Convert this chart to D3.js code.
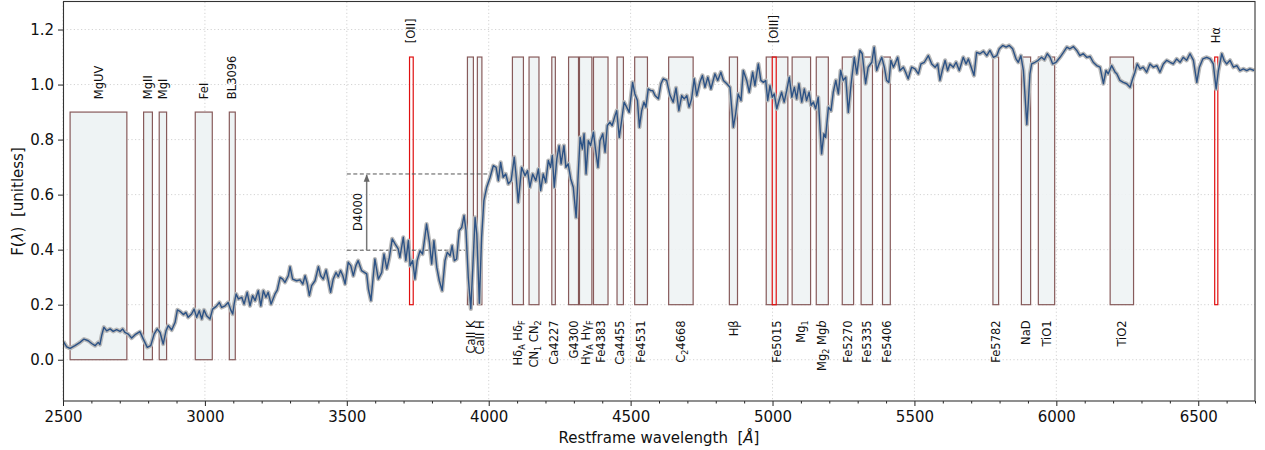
<!DOCTYPE html>
<html><head><meta charset="utf-8">
<script src="https://cdn.jsdelivr.net/npm/d3@7"></script>
<style>body{margin:0;background:#fff} text{font-family:"DejaVu Sans",sans-serif;fill:#111}</style>
</head><body><svg id="c" width="1265" height="450"></svg>
<script>
// ---------------- data ----------------
const wavelength = [2501,2513,2525,2542,2560,2574,2589,2601,2613,2624,2630,2636,2644,2654,2666,2677,2689,2701,2710,2718,2730,2742,2754,2771,2783,2797,2809,2821,2832,2842,2853,2863,2871,2883,2895,2903,2912,2924,2933,2941,2953,2962,2971,2980,2989,2997,3006,3018,3027,3039,3051,3059,3071,3082,3091,3098,3103,3110,3118,3130,3138,3149,3159,3168,3177,3188,3197,3206,3215,3223,3233,3247,3255,3265,3274,3282,3294,3300,3309,3323,3335,3345,3353,3361,3368,3376,3388,3400,3408,3417,3427,3435,3443,3452,3462,3470,3478,3486,3494,3505,3514,3523,3532,3540,3552,
3570,3576,3585,3599,3611,3623,3631,3641,3650,3660,3670,3681,3687,3699,3708,3717,3723,3732,3740,3748,3758,3767,3781,3791,3799,3807,3817,3826,3836,3846,3854,3864,3871,3879,3887,3896,3905,3913,3920,3928,3937,3944,3952,3958,3967,3975,3983,3993,4005,4016,4026,4034,4042,4051,4060,4069,4079,4090,4096,4104,4116,4128,4137,4145,4155,4166,4175,4183,4192,4201,4210,4218,4224,4231,4240,4248,4255,4265,4272,4280,4289,4298,4308,4316,4322,4330,4336,4343,4351,4359,4369,4376,4385,4392,4402,4410,4418,4427,4435,4445,4451,4460,4469,4477,4486,4495,4507,4515,4524,4531,4539,4547,4554,4562,4571,4578,
4586,4598,4607,4615,4627,4639,4650,4660,4670,4680,4689,4698,4706,4715,4724,4733,4744,4753,4762,4772,4783,4797,4807,4818,4827,4839,4850,4862,4870,4879,4889,4897,4909,4918,4930,4938,4950,4959,4968,4976,4983,4991,4999,5006,5015,5023,5032,5041,5050,5059,5068,5077,5085,5093,5103,5112,5120,5129,5136,5144,5152,5161,5170,5173,5181,5187,5197,5206,5214,5223,5232,5240,5249,5258,5267,5277,5288,5297,5308,5316,5328,5337,5350,5358,5367,5375,5385,5394,5402,5410,5417,5426,5434,5441,5449,5461,5469,5478,5490,5502,5514,5523,5535,5549,5561,5573,5582,5590,5598,5608,5617,
5625,5637,5647,5658,5672,5682,5690,5698,5710,5719,5731,5743,5755,5766,5778,5790,5799,5811,5823,5834,5846,5858,5866,5875,5884,5890,5896,5901,5907,5913,5925,5936,5948,5958,5968,5978,5987,5999,6013,6025,6037,6048,6060,6072,6083,6095,6107,6119,6130,6142,6154,6166,6175,6183,6195,6207,6213,6224,6236,6248,6260,6269,6277,6285,6295,6306,6318,6330,6342,6354,6365,6377,6389,6401,6412,6424,6436,6447,6459,6471,6483,6495,6504,6516,6530,6542,6553,6563,6571,6583,6591,6600,6612,6624,6636,6647,6659,6671,6682,6697];
const flux = [0.067,0.047,0.041,0.051,0.063,0.075,0.069,0.059,0.051,0.063,0.055,0.087,0.118,0.105,0.112,0.103,0.109,0.103,0.112,0.099,0.093,0.079,0.091,0.102,0.075,0.045,0.051,0.093,0.112,0.099,0.057,0.105,0.124,0.108,0.136,0.181,0.176,0.164,0.172,0.154,0.166,0.184,0.154,0.178,0.148,0.181,0.160,0.148,0.184,0.193,0.208,0.190,0.196,0.208,0.181,0.166,0.202,0.239,0.221,0.227,0.202,0.245,0.196,0.233,0.215,0.251,0.196,0.251,0.227,0.245,0.202,0.239,0.253,0.299,0.293,0.281,0.305,0.338,0.293,0.287,0.290,0.275,0.305,0.275,0.233,0.269,0.287,0.338,0.305,0.293,0.326,0.287,0.245,0.293,0.317,0.302,0.324,0.305,0.275,0.354,0.342,0.305,0.342,0.360,0.324,
0.312,0.257,0.215,0.366,0.293,0.317,0.384,0.330,0.372,0.439,0.421,0.403,0.372,0.445,0.360,0.433,0.342,0.360,0.293,0.360,0.396,0.384,0.493,0.427,0.348,0.433,0.336,0.287,0.251,0.360,0.390,0.378,0.415,0.360,0.366,0.469,0.481,0.524,0.469,0.299,0.185,0.336,0.517,0.457,0.205,0.445,0.578,0.627,0.663,0.705,0.699,0.651,0.717,0.663,0.675,0.639,0.651,0.736,0.675,0.572,0.699,0.669,0.687,0.627,0.675,0.651,0.693,0.615,0.675,0.645,0.724,0.699,0.742,0.627,0.730,0.778,0.712,0.778,0.699,0.712,0.657,0.627,0.517,0.687,0.808,0.766,0.821,0.675,0.796,0.778,0.827,0.766,0.699,0.796,0.821,0.754,0.851,0.863,0.851,0.887,0.905,0.808,0.873,0.936,0.918,0.899,1.008,0.966,0.942,0.845,0.905,0.936,0.918,0.984,0.978,0.978,
0.960,0.948,1.003,1.021,1.015,0.960,0.936,0.988,0.905,0.960,0.948,0.960,0.918,0.948,1.021,0.960,1.008,1.033,0.990,1.027,0.984,1.039,1.015,1.045,1.015,1.003,0.990,0.845,0.893,0.966,0.942,1.051,1.015,0.972,1.045,0.996,1.075,1.015,1.008,1.015,0.942,0.996,0.954,0.966,0.912,0.942,0.972,0.936,0.978,1.027,0.954,0.990,0.948,1.003,0.936,0.984,0.942,0.972,0.924,0.936,0.912,0.954,0.796,0.748,0.821,0.808,0.918,0.905,0.972,1.015,0.966,1.051,1.015,1.027,0.899,1.003,1.099,1.039,1.124,1.112,1.003,1.063,1.081,1.136,1.051,1.075,1.099,1.063,1.015,1.008,1.088,1.063,1.081,1.099,1.051,1.063,1.045,1.021,1.063,1.057,1.039,1.075,1.081,1.105,1.075,1.063,1.075,1.015,1.051,1.088,1.051,
1.075,1.063,1.081,1.051,1.099,1.075,1.093,1.069,1.033,1.117,1.112,1.121,1.105,1.124,1.099,1.105,1.130,1.142,1.136,1.142,1.130,1.093,1.081,1.105,1.051,0.954,0.855,0.930,1.039,1.075,1.081,1.088,1.099,1.090,1.112,1.099,1.075,1.081,1.099,1.117,1.136,1.130,1.138,1.124,1.105,1.112,1.099,1.102,1.081,1.069,1.063,1.003,1.051,1.039,1.069,1.045,1.039,1.015,1.008,1.003,0.990,1.021,1.045,1.075,1.057,1.063,1.045,1.075,1.063,1.069,1.045,1.075,1.088,1.081,1.075,1.093,1.081,1.099,1.088,1.112,1.088,1.008,1.063,1.093,1.099,1.093,1.075,0.984,1.051,1.112,1.088,1.075,1.088,1.063,1.069,1.051,1.057,1.051,1.057,1.051];

const uvLabels = ["MgUV","MgII","MgI","FeI","BL3096"];
const uvLo = [2525,2784,2839,2966,3086];
const uvHi = [2725,2815,2865,3026,3107];

const indexLabels = ["CaII K","CaII H","Hδ_A Hδ_F","CN_1 CN_2","Ca4227","G4300","Hγ_A Hγ_F","Fe4383","Ca4455","Fe4531","C_24668","Hβ","Fe5015","Mg_1","Mg_2 Mg{b}","Fe5270","Fe5335","Fe5406","Fe5782","NaD","TiO1","TiO2"];
const indexLo = [3925,3960,4083.5,4142.1,4222.3,4281.4,4319.8,4369.1,4452.1,4514.3,4634,4847.9,4977.8,5069.1,5154.1,5245.7,5312.1,5387.5,5776.6,5876.9,5936.6,6189.6];
const indexHi = [3946,3976,4122.3,4177.1,4234.8,4316.4,4363.5,4420.4,4474.6,4559.3,4720.3,4876.6,5054,5134.1,5196.6,5285.7,5352.1,5415,5796.6,5909.4,5994.1,6272.1];

const emLabels = ["[OII]","[OIII]","Hα"];
const emLo = [3721,4999,6558];
const emHi = [3734,5013,6569];

// D4000: [blue-side level, red-side level], extents
const d4000Levels = [0.398, 0.675];
const d4000Ends = [3920, 3995];
const d4000Start = 3500;
const d4000ArrowAt = 3570;

const xTicks = [2500,3000,3500,4000,4500,5000,5500,6000,6500];
const yTicks = [0.0,0.2,0.4,0.6,0.8,1.0,1.2];
const xDomain = [2500,6700];
const yDomain = [-0.15,1.3];

// ---------------- drawing ----------------
const svg = d3.select("#c");
const L=63, R=1255, T=2, B=401;
const x = d3.scaleLinear(xDomain,[L,R]);
const y = d3.scaleLinear(yDomain,[B,T]);

svg.append("defs").append("clipPath").attr("id","clip")
  .append("rect").attr("x",L).attr("y",T).attr("width",R-L).attr("height",B-T);
svg.select("defs").append("marker").attr("id","ah").attr("viewBox","0 0 10 10")
  .attr("refX",9).attr("refY",5).attr("markerWidth",5).attr("markerHeight",5).attr("orient","auto")
  .append("path").attr("d","M0,1 L10,5 L0,9 z").attr("fill","#666");

// grid
const grid = svg.append("g").attr("stroke","#c8c8c8").attr("stroke-width",0.8).attr("stroke-dasharray","1.2,2.4");
grid.selectAll(".gx").data(xTicks).join("line").attr("x1",d=>x(d)).attr("x2",d=>x(d)).attr("y1",T).attr("y2",B);
grid.selectAll(".gy").data(yTicks).join("line").attr("y1",d=>y(d)).attr("y2",d=>y(d)).attr("x1",L).attr("x2",R);

const plot = svg.append("g").attr("clip-path","url(#clip)");
const bandFill="#eef3f4", bandStroke="#6b3333";

// UV bands
plot.selectAll(".uv").data(uvLo.map((lo,i)=>[lo,uvHi[i]])).join("rect")
  .attr("x",d=>x(d[0])).attr("width",d=>x(d[1])-x(d[0]))
  .attr("y",y(0.9)).attr("height",y(0)-y(0.9))
  .attr("fill",bandFill).attr("stroke",bandStroke).attr("stroke-opacity",0.8).attr("stroke-width",1.2);
// index bands
plot.selectAll(".ix").data(indexLo.map((lo,i)=>[lo,indexHi[i]])).join("rect")
  .attr("x",d=>x(d[0])).attr("width",d=>x(d[1])-x(d[0]))
  .attr("y",y(1.1)).attr("height",y(0.2)-y(1.1))
  .attr("fill",bandFill).attr("fill-opacity",0.9).attr("stroke",bandStroke).attr("stroke-opacity",0.8).attr("stroke-width",1.2);
// emission lines
plot.selectAll(".em").data(emLo.map((lo,i)=>[lo,emHi[i]])).join("rect")
  .attr("x",d=>x(d[0])).attr("width",d=>x(d[1])-x(d[0]))
  .attr("y",y(1.1)).attr("height",y(0.2)-y(1.1))
  .attr("fill","none").attr("stroke","#e01010").attr("stroke-width",1.2);

// D4000
const dg = plot.append("g").attr("stroke","#555").attr("stroke-width",1).attr("stroke-dasharray","4,2.5");
d4000Levels.forEach((lv,i)=>{
  dg.append("line").attr("x1",x(d4000Start)).attr("x2",x(d4000Ends[i])).attr("y1",y(lv)).attr("y2",y(lv));
});
plot.append("line").attr("x1",x(d4000ArrowAt)).attr("x2",x(d4000ArrowAt))
  .attr("y1",y(d4000Levels[0])).attr("y2",y(d4000Levels[1])+1)
  .attr("stroke","#777").attr("stroke-width",1.5).attr("marker-end","url(#ah)");

// spectrum
const pts = wavelength.map((w,i)=>[w,flux[i]]);
const line = d3.line().x(d=>x(d[0])).y(d=>y(d[1]));
plot.append("path").datum(pts).attr("d",line).attr("fill","none")
  .attr("stroke","#b8b8b8").attr("stroke-width",4.2).attr("stroke-linejoin","round");
plot.append("path").datum(pts).attr("d",line).attr("fill","none")
  .attr("stroke","#2c5285").attr("stroke-width",1.4).attr("stroke-linejoin","round");

// labels
function richText(sel, str){
  let i=0, fs=11.5, shift=0;
  const seg=(txt)=>{ const t=sel.append("tspan").text(txt); if(shift) t.attr("dy",-shift); shift=0; return t; };
  while(i<str.length){
    const c=str[i];
    if(c==="_"){
      sel.append("tspan").attr("dy",3-shift).attr("font-size",fs*0.7).text(str[i+1]);
      shift=3; i+=2;
    } else if(c==="{"){
      const j=str.indexOf("}",i);
      seg(str.slice(i+1,j)).attr("font-style","italic");
      i=j+1;
    } else {
      let j=i; while(j<str.length && str[j]!=="_" && str[j]!=="{") j++;
      seg(str.slice(i,j)); i=j;
    }
  }
}
function vlabel(xp, yp, str, anchor){
  // shift by ~0.36em across the rotated baseline so the glyphs centre on xp
  const t = svg.append("text").attr("transform",`translate(${xp+4.1},${yp}) rotate(-90)`)
    .attr("text-anchor",anchor).attr("font-size",11.5);
  richText(t,str);
}
uvLabels.forEach((s,i)=>vlabel(x((uvLo[i]+uvHi[i])/2), y(0.947), s, "start"));
emLabels.forEach((s,i)=>vlabel(x((emLo[i]+emHi[i])/2), y(1.15), s, "start"));
indexLabels.forEach((s,i)=>vlabel(x((indexLo[i]+indexHi[i])/2), y(0.143), s, "end"));
vlabel(x(3540), y(0.537), "D4000", "middle");

// axes
svg.append("g").attr("transform",`translate(0,${B})`)
  .call(d3.axisBottom(x).tickValues(xTicks).tickSize(5).tickPadding(5).tickFormat(d3.format("d")));
svg.append("g").attr("transform",`translate(0,${B})`)
  .call(d3.axisBottom(x).tickValues(d3.range(2500,6701,100).filter(v=>v%500)).tickSize(2.5).tickFormat(""))
  .call(g=>g.select(".domain").remove());
svg.append("g").attr("transform",`translate(${L},0)`)
  .call(d3.axisLeft(y).tickValues(yTicks).tickSize(5).tickPadding(4).tickFormat(d3.format(".1f")));
svg.selectAll(".tick text").attr("font-size",15).attr("font-family","DejaVu Sans").attr("fill","#111");
svg.selectAll(".domain").remove();
svg.selectAll(".tick line").attr("stroke","#222");
// frame
svg.append("rect").attr("x",L+0.5).attr("y",T-0.5).attr("width",R-L-0.5).attr("height",B-T+0.5)
  .attr("fill","none").attr("stroke","#333").attr("stroke-width",1.1);

// axis titles
const yl = svg.append("text").attr("transform",`translate(18,${(T+B)/2}) rotate(-90)`)
  .attr("text-anchor","middle").attr("dy","0.36em").attr("font-size",15);
yl.append("tspan").text("F(");
yl.append("tspan").attr("font-style","italic").text("λ");
yl.append("tspan").text(")\u00a0\u00a0[unitless]");
const xl = svg.append("text").attr("x",(L+R)/2).attr("y",443).attr("text-anchor","middle").attr("font-size",15);
xl.append("tspan").text("Restframe wavelength\u00a0\u00a0[");
xl.append("tspan").attr("font-style","italic").text("Å");
xl.append("tspan").text("]");
</script></body></html>
